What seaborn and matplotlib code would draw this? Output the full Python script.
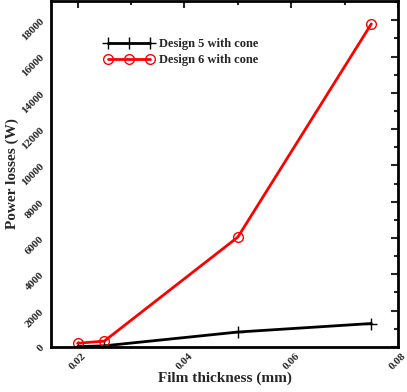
import matplotlib
matplotlib.use("Agg")
import matplotlib.pyplot as plt
import seaborn as sns
import pandas as pd
from matplotlib.ticker import MultipleLocator

film_thickness = [0.02, 0.025, 0.05, 0.075]
design5_losses = [20, 60, 820, 1290]
design6_losses = [200, 320, 6050, 17800]

df = pd.DataFrame({
    "x": film_thickness * 2,
    "y": design5_losses + design6_losses,
    "series": ["Design 5 with cone"] * 4 + ["Design 6 with cone"] * 4,
})

sns.set_style("white")
plt.rcParams["font.family"] = ["Liberation Serif", "DejaVu Serif"]
plt.rcParams["font.weight"] = "bold"

fig, ax = plt.subplots(figsize=(4.07, 3.92), dpi=100)
sub5 = df[df.series == "Design 5 with cone"]
sub6 = df[df.series == "Design 6 with cone"]
sns.lineplot(data=sub5, x="x", y="y", ax=ax, color="black", lw=2,
             marker="+", markersize=9, mec="black", mew=1,
             label="Design 5 with cone")
sns.lineplot(data=sub6, x="x", y="y", ax=ax, color="red", lw=2,
             marker="o", markersize=7, mfc="none", mec="red", mew=1,
             label="Design 6 with cone")

ax.set_xlim(0.015, 0.08)
ax.set_ylim(0, 19050)
ax.xaxis.set_major_locator(MultipleLocator(0.02))
ax.xaxis.set_minor_locator(MultipleLocator(0.01))
ax.yaxis.set_major_locator(MultipleLocator(2000))
ax.yaxis.set_minor_locator(MultipleLocator(1000))
ax.tick_params(which="both", direction="in", top=True, right=True, width=1.5)
ax.tick_params(which="major", length=5)
ax.tick_params(which="minor", length=3)
ax.tick_params(axis="x", labelsize=8, rotation=45)
ax.tick_params(axis="y", labelsize=8, rotation=45)
for s in ax.spines.values():
    s.set_linewidth(2)
    s.set_color("black")

ax.set_xlabel("Film thickness (mm)", fontsize=11, fontweight="bold", labelpad=0)
ax.set_ylabel("Power losses (W)", fontsize=11, fontweight="bold", labelpad=1)
ax.legend(loc="upper left", bbox_to_anchor=(0.12, 0.925), frameon=False,
          numpoints=3, handlelength=4, handletextpad=0.4,
          labelspacing=0.3, prop={"weight": "bold", "size": 9})

fig.subplots_adjust(left=0.125, right=0.978, top=0.997, bottom=0.115)
plt.savefig("out.png", dpi=100)
